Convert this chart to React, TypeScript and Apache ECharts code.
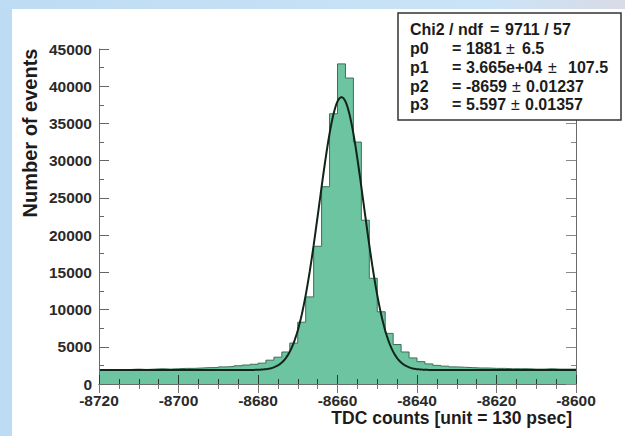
import React, { useEffect, useRef } from "react";
import * as echarts from "echarts";

// ---- data ----
const binStart = -8720;
const binWidth = 2;
const counts = [
  1900, 1950, 1900, 1950, 2000, 1950, 2000, 2050, 2000, 2050,
  2100, 2100, 2150, 2200, 2200, 2300, 2350, 2450, 2550, 2650,
  2800, 3200, 3600, 4300, 5500, 8300, 11700, 18500, 26500, 36300,
  43000, 41100, 32500, 22000, 14200, 9700, 6800, 5300, 4300, 3500,
  3000, 2700, 2500, 2400, 2300, 2250, 2200, 2150, 2150, 2100,
  2100, 2050, 2050, 2050, 2000, 2000, 2050, 2000, 2000, 2000,
];
const xTicks = [-8720, -8700, -8680, -8660, -8640, -8620, -8600];
const yTicks = [0, 5000, 10000, 15000, 20000, 25000, 30000, 35000, 40000, 45000];

// fit parameters shown in the stats box (gaus + constant)
const fitP0 = 1881;
const fitP1 = 36650;
const fitP2 = -8659;
const fitP3 = 5.597;

const statsLabels = ["Chi2 / ndf", "p0", "p1", "p2", "p3"];
const statsValues = ["9711 / 57", "1881", "3.665e+04", "-8659", "5.597"];
const statsErrors = ["", "6.5", "107.5", "0.01237", "0.01357"];

const FONT = "'Liberation Sans', Arial, Helvetica, sans-serif";

export default function App() {
  const ref = useRef<HTMLDivElement>(null);

  useEffect(() => {
    document.body.style.margin = "0";
    if (!ref.current) return;
    const chart = echarts.init(ref.current, undefined, { renderer: "svg" });

    const histData: [number, number][] = counts.map((v, k) => [binStart + k * binWidth, v]);
    histData.push([binStart + counts.length * binWidth, counts[counts.length - 1]]);

    const fitData: [number, number][] = [];
    const xMin = xTicks[0];
    const xMax = xTicks[xTicks.length - 1];
    for (let x = xMin; x <= xMax + 1e-9; x += 0.25) {
      const d = (x - fitP2) / fitP3;
      fitData.push([x, fitP0 + fitP1 * Math.exp(-0.5 * d * d)]);
    }

    const gridLeft = 99;
    const gridTop = 49;
    const gridW = 477;
    const gridH = 335;

    const axisCommon = {
      type: "value" as const,
      z: 5,
      splitLine: { show: false },
      axisLine: { show: true, lineStyle: { color: "#6a6a6a", width: 1 } },
    };

    const labelStyle = {
      show: true,
      fontSize: 15.5,
      fontWeight: "bold",
      color: "#2a2a2a",
      fontFamily: FONT,
      formatter: (v: number) => String(v),
    };

    const statsRowsY = [29, 48, 67, 86, 104];
    const eqX = [490, 452, 452, 452, 452];
    const valX = [505, 466, 466, 466, 466];
    const pmX = [0, 506, 548, 512, 511];
    const errX = [0, 522, 568, 526, 525];

    const statsTexts: any[] = [];
    statsLabels.forEach((lab, i) => {
      const st = {
        fill: "#1c1c1c",
        fontSize: 16,
        fontWeight: "bold",
        fontFamily: FONT,
        textVerticalAlign: "middle",
        textAlign: "left",
      };
      const y = statsRowsY[i];
      statsTexts.push({ type: "text", x: 410, y, z: 21, style: { ...st, text: lab } });
      statsTexts.push({ type: "text", x: eqX[i], y, z: 21, style: { ...st, text: "=" } });
      statsTexts.push({ type: "text", x: valX[i], y, z: 21, style: { ...st, text: statsValues[i] } });
      if (statsErrors[i]) {
        statsTexts.push({ type: "text", x: pmX[i], y, z: 21, style: { ...st, fontWeight: "normal", text: "±" } });
        statsTexts.push({ type: "text", x: errX[i], y, z: 21, style: { ...st, text: statsErrors[i] } });
      }
    });

    chart.setOption({
      animation: false,
      backgroundColor: "#ffffff",
      grid: { left: gridLeft, top: gridTop, width: gridW, height: gridH, containLabel: false },
      xAxis: [
        {
          ...axisCommon,
          position: "bottom",
          min: xMin,
          max: xMax,
          interval: 20,
          axisTick: { show: true, inside: true, length: 9, lineStyle: { color: "#2a3a32", width: 1 } },
          minorTick: { show: true, splitNumber: 4, length: 5, lineStyle: { color: "#2a3a32", width: 1 } },
          axisLabel: { ...labelStyle, margin: 8 },
        },
        {
          ...axisCommon,
          position: "top",
          min: xMin,
          max: xMax,
          interval: 20,
          axisTick: { show: true, inside: true, length: 9, lineStyle: { color: "#777", width: 1 } },
          minorTick: { show: true, splitNumber: 4, length: 5, lineStyle: { color: "#777", width: 1 } },
          axisLabel: { show: false },
        },
      ],
      yAxis: [
        {
          ...axisCommon,
          position: "left",
          min: yTicks[0],
          max: yTicks[yTicks.length - 1],
          interval: 5000,
          axisTick: { show: true, inside: true, length: 10, lineStyle: { color: "#666", width: 1 } },
          minorTick: { show: true, splitNumber: 2, length: 5, lineStyle: { color: "#666", width: 1 } },
          axisLabel: { ...labelStyle, margin: 7 },
        },
        {
          ...axisCommon,
          position: "right",
          min: yTicks[0],
          max: yTicks[yTicks.length - 1],
          interval: 5000,
          axisTick: { show: true, inside: true, length: 10, lineStyle: { color: "#888", width: 1 } },
          minorTick: { show: true, splitNumber: 2, length: 5, lineStyle: { color: "#888", width: 1 } },
          axisLabel: { show: false },
        },
      ],
      series: [
        {
          type: "line",
          name: "histogram",
          xAxisIndex: 0,
          yAxisIndex: 0,
          data: histData,
          step: "end",
          symbol: "none",
          z: 2,
          lineStyle: { color: "#3d6e57", width: 1 },
          areaStyle: { color: "#6dc4a0", opacity: 1 },
        },
        {
          type: "line",
          name: "fit",
          xAxisIndex: 0,
          yAxisIndex: 0,
          data: fitData,
          symbol: "none",
          smooth: false,
          z: 3,
          lineStyle: { color: "#10241a", width: 2 },
        },
      ],
      graphic: [
        { type: "rect", z: 0, shape: { x: 0, y: 0, width: 12, height: 436 }, style: { fill: "#bddcf4" } },
        {
          type: "rect",
          z: 0,
          shape: { x: 0, y: 0, width: 625, height: 9 },
          style: {
            fill: new echarts.graphic.LinearGradient(0, 0, 1, 0, [
              { offset: 0, color: "#bddcf4" },
              { offset: 0.8, color: "#cbe3f6" },
              { offset: 1, color: "#d9dbe6" },
            ]),
          },
        },
        {
          type: "rect",
          z: 20,
          shape: { x: 398, y: 13, width: 223, height: 107 },
          style: { fill: "#ffffff", stroke: "#333333", lineWidth: 1.5 },
        },
        ...statsTexts,
        {
          type: "text",
          x: 30,
          y: 133,
          rotation: Math.PI / 2,
          z: 10,
          style: {
            text: "Number of events",
            fill: "#1c1c1c",
            fontSize: 20,
            fontWeight: "bold",
            fontFamily: FONT,
            textAlign: "center",
            textVerticalAlign: "middle",
          },
        },
        {
          type: "text",
          x: 572,
          y: 418,
          z: 10,
          style: {
            text: "TDC counts [unit = 130 psec]",
            fill: "#1c1c1c",
            fontSize: 17.5,
            fontWeight: "bold",
            fontFamily: FONT,
            textAlign: "right",
            textVerticalAlign: "middle",
          },
        },
      ],
    });

    return () => chart.dispose();
  }, []);

  return <div ref={ref} style={{ width: 625, height: 436 }} />;
}
